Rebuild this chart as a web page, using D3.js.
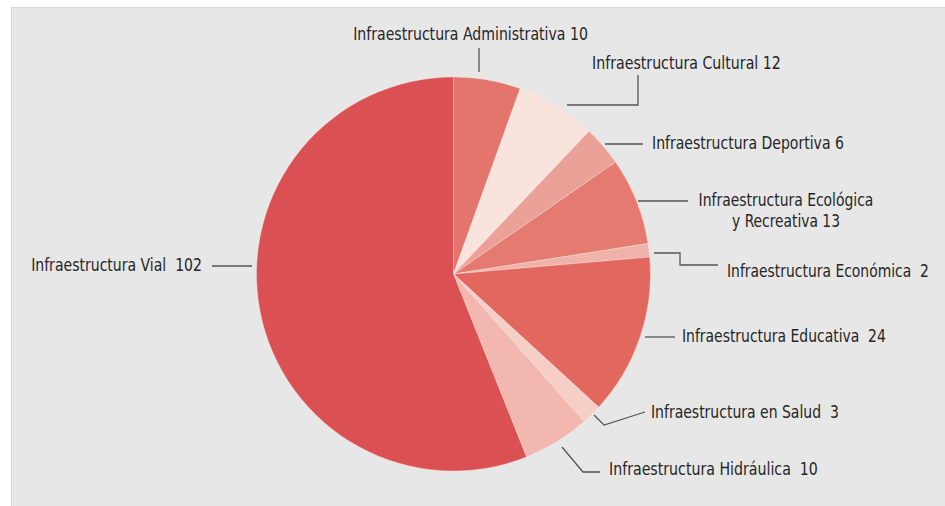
<!DOCTYPE html>
<html><head><meta charset="utf-8">
<script src="https://cdn.jsdelivr.net/npm/d3@7"></script>
<style>
html,body{margin:0;padding:0;background:#fff;}
svg{display:block;}
text{font-family:"DejaVu Sans Condensed","Liberation Sans Narrow",sans-serif;font-size:18.5px;fill:#262626;}
</style></head>
<body>
<svg id="c" width="945" height="506"></svg>
<script>
const categories = ["Infraestructura Administrativa","Infraestructura Cultural","Infraestructura Deportiva","Infraestructura Ecológica y Recreativa","Infraestructura Económica","Infraestructura Educativa","Infraestructura en Salud","Infraestructura Hidráulica","Infraestructura Vial"];
const values = [10,12,6,13,2,24,3,10,102];
const labelLines = [
  ["Infraestructura Administrativa 10"],
  ["Infraestructura Cultural 12"],
  ["Infraestructura Deportiva 6"],
  ["Infraestructura Ecológica","y Recreativa 13"],
  ["Infraestructura Económica  2"],
  ["Infraestructura Educativa  24"],
  ["Infraestructura en Salud  3"],
  ["Infraestructura Hidráulica  10"],
  ["Infraestructura Vial  102"]
];
const colors = ["#e3756d","#f8e3dd","#eba197","#e47a70","#f0b3aa","#e2675f","#f5cfc6","#f2b8b0","#db5153"];

// layout (label anchors, fitted line widths, leader paths)
const cx = 453.5, cy = 274, R = 197;
const labelPos = [
  {x:470.5,y:40,anchor:"middle",w:[235]},
  {x:592,y:69,anchor:"start",w:[189]},
  {x:652,y:149,anchor:"start",w:[192]},
  {x:786,y:206,anchor:"middle",w:[175,108]},
  {x:727,y:277,anchor:"start",w:[202]},
  {x:682,y:342,anchor:"start",w:[204]},
  {x:651,y:418,anchor:"start",w:[188]},
  {x:609,y:475,anchor:"start",w:[209]},
  {x:202,y:271,anchor:"end",w:[171]}
];
const leaders = [
  [[479,72],[479,48]],
  [[567,105],[638,105],[638,75]],
  [[605,144],[643,144]],
  [[638,201],[688,201]],
  [[654,253],[680,253],[680,265],[718,265]],
  [[645,337],[675,337]],
  [[594,415],[604,425],[645,412]],
  [[562,447],[583,472],[600,472]],
  [[252,266],[212,266]]
];

const svg = d3.select("#c");
svg.append("rect").attr("x",11).attr("y",7).attr("width",934).attr("height",499).attr("fill","#e6e7e6");
svg.append("line").attr("x1",11.5).attr("x2",11.5).attr("y1",7).attr("y2",506).attr("stroke","#d6d7d6").attr("stroke-width",1);
svg.append("line").attr("x1",11).attr("x2",945).attr("y1",7.5).attr("y2",7.5).attr("stroke","#d9dad9").attr("stroke-width",1);

const pie = d3.pie().sort(null).value(d=>d)(values);
const arc = d3.arc().innerRadius(0).outerRadius(R);
const g = svg.append("g").attr("transform",`translate(${cx},${cy})`);
g.selectAll("path").data(pie).join("path")
  .attr("d",arc)
  .attr("fill",(d,i)=>colors[i])
  .attr("stroke","rgba(255,235,230,0.6)")
  .attr("stroke-width",0.6);

const line = d3.line();
svg.selectAll("path.leader").data(leaders).join("path").attr("class","leader")
  .attr("d",d=>line(d)).attr("fill","none").attr("stroke","#555").attr("stroke-width",1.3);

categories.forEach((c,i)=>{
  const p = labelPos[i];
  labelLines[i].forEach((ln,j)=>{
    const w = p.w[j];
    const grp = svg.append("g").attr("transform",`translate(${p.x},${p.y + j*21})`);
    const t = grp.append("text")
      .attr("x",0).attr("y",0)
      .attr("text-anchor",p.anchor)
      .style("white-space","pre")
      .text(ln);
    const nat = t.node().getComputedTextLength();
    t.attr("transform",`scale(${w/nat},1)`);
  });
});
</script>
</body></html>
